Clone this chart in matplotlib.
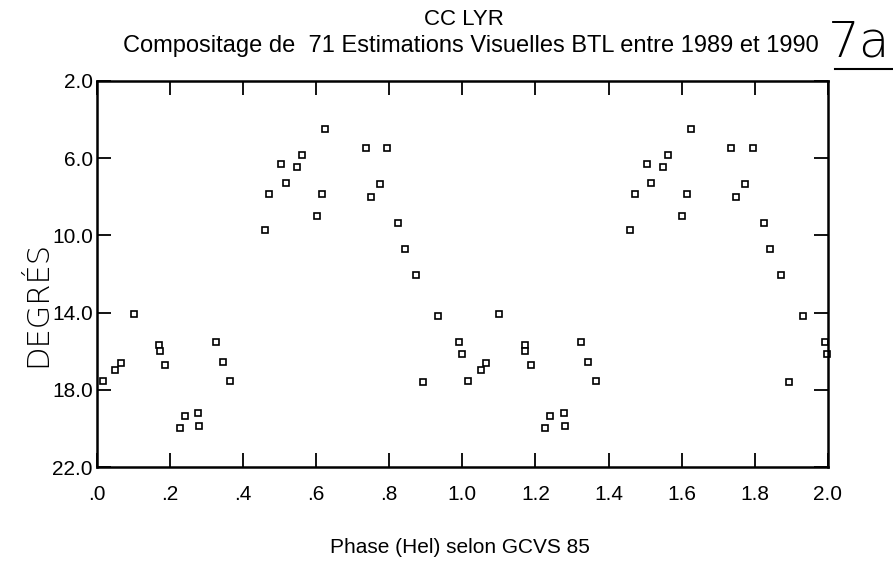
import numpy as np
import matplotlib
matplotlib.use("Agg")
import matplotlib.pyplot as plt

# phases (one cycle) and visual estimates in degrees
phase = [0.016, 0.050, 0.065, 0.101, 0.170, 0.172, 0.187, 0.227, 0.241, 0.277,
         0.280, 0.325, 0.344, 0.365, 0.460, 0.471, 0.504, 0.516, 0.548, 0.562,
         0.601, 0.615, 0.625, 0.735, 0.749, 0.774, 0.795, 0.825, 0.842, 0.872,
         0.893, 0.933, 0.991, 0.998]
degres = [17.55, 17.0, 16.6, 14.05, 15.7, 16.0, 16.7, 20.0, 19.35, 19.2,
          19.9, 15.5, 16.55, 17.55, 9.7, 7.85, 6.3, 7.3, 6.45, 5.85,
          9.0, 7.85, 4.5, 5.45, 8.0, 7.35, 5.45, 9.35, 10.7, 12.05,
          17.6, 14.2, 15.5, 16.15]

xticks = [0.0, 0.2, 0.4, 0.6, 0.8, 1.0, 1.2, 1.4, 1.6, 1.8, 2.0]
xticklabels = [".0", ".2", ".4", ".6", ".8", "1.0", "1.2", "1.4", "1.6", "1.8", "2.0"]
yticks = [2.0, 6.0, 10.0, 14.0, 18.0, 22.0]
yticklabels = ["2.0", "6.0", "10.0", "14.0", "18.0", "22.0"]

plt.rcParams["font.family"] = ["Liberation Sans", "DejaVu Sans"]

fig = plt.figure(figsize=(8.93, 5.62), dpi=100)
ax = fig.add_axes([0.1086, 0.169, 0.8184, 0.687])

# la courbe est repliee sur deux cycles
ph = np.array(phase)
mag = np.array(degres)
xs = np.concatenate([ph, ph + 1.0])
ys = np.concatenate([mag, mag])
keep = xs <= 2.0
ax.plot(xs[keep], ys[keep], linestyle="none", marker="s", ms=4.2,
        mfc="white", mec="black", mew=1.2, clip_on=False)

ax.set_xlim(0, 2.0)
ax.set_ylim(22.0, 2.0)
ax.set_xticks(xticks)
ax.set_xticklabels(xticklabels)
ax.set_yticks(yticks)
ax.set_yticklabels(yticklabels)
ax.tick_params(direction="in", length=10, width=1.3, top=True, right=True,
               labelsize=15, colors="black")
ax.tick_params(axis="x", pad=13)
ax.tick_params(axis="y", pad=3)
for s in ax.spines.values():
    s.set_linewidth(1.8)

fig.text(0.52, 0.965, "CC LYR", ha="center", va="center", fontsize=16)
fig.text(0.527, 0.918, "Compositage de  71 Estimations Visuelles BTL entre 1989 et 1990",
         ha="center", va="center", fontsize=17)
fig.text(0.515, 0.025, "Phase (Hel) selon GCVS 85", ha="center", va="center", fontsize=15)

# annotations manuscrites
fig.text(0.042, 0.46, "DEGRÉS", rotation=90, ha="center", va="center",
         fontsize=22, family=["DejaVu Sans"], fontweight="light")
fig.text(0.962, 0.925, "7a", ha="center", va="center", fontsize=36,
         family=["DejaVu Sans"], fontweight="light")
fig.add_artist(plt.Line2D([0.935, 1.0], [0.878, 0.878], color="black", lw=1.5))

fig.savefig("out.png", dpi=100, facecolor="white")
